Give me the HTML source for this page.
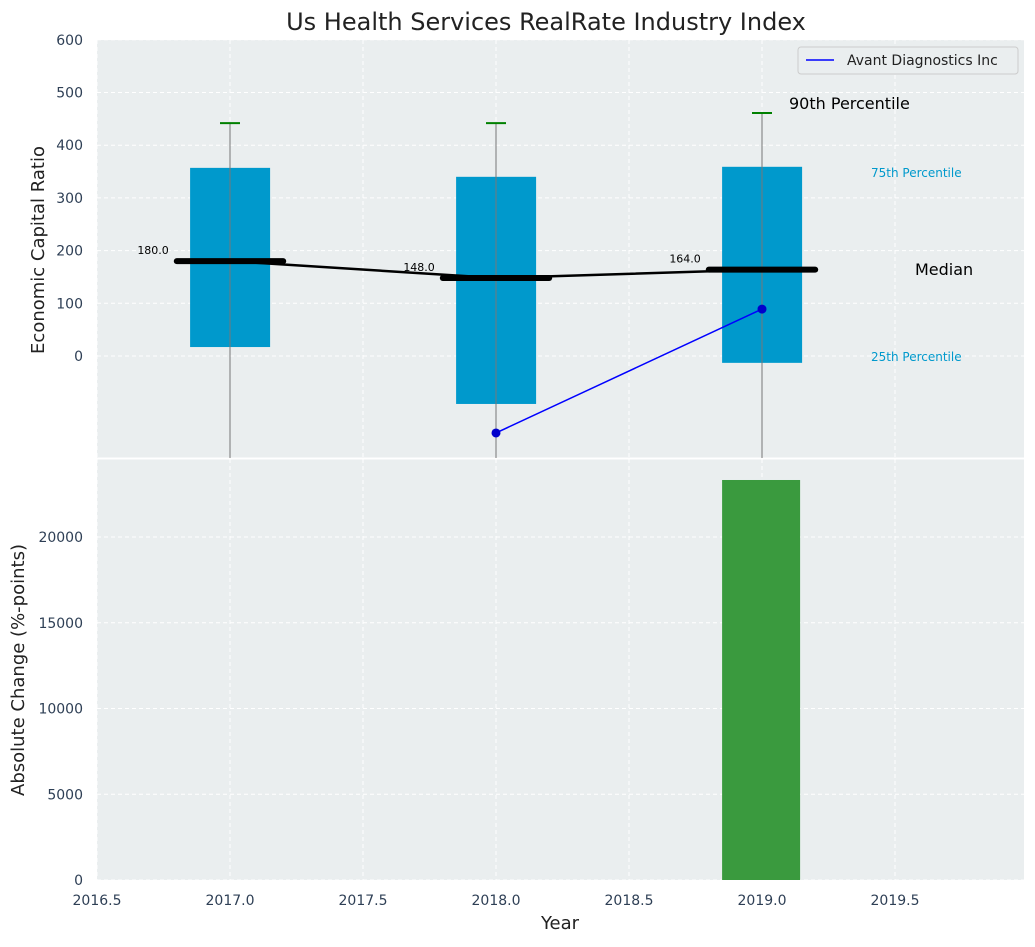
<!DOCTYPE html>
<html><head><meta charset="utf-8"><style>
body{margin:0;background:#fff;font-family:"Liberation Sans","DejaVu Sans",sans-serif}
svg text{font-family:"DejaVu Sans","Liberation Sans",sans-serif}
</style></head><body>
<svg id="c" width="1035" height="942" xmlns="http://www.w3.org/2000/svg"></svg>
<script>
const years=[2017,2018,2019];
const q25=[17,-91,-13];
const q75=[357,340,359];
const p90=[442,442,461];
const medians=[180,148,164];
const avantYears=[2018,2019];
const avantVals=[-146,89];
const changeYears=[2019];
const changeVals=[23324];
const xTicks=[2016.5,2017.0,2017.5,2018.0,2018.5,2019.0,2019.5];
const yTopTicks=[0,100,200,300,400,500,600];
const yBotTicks=[0,5000,10000,15000,20000];

const NS="http://www.w3.org/2000/svg";
const svg=document.getElementById('c');
function el(t,a,txt){const e=document.createElementNS(NS,t);for(const k in a)e.setAttribute(k,a[k]);if(txt!==undefined)e.textContent=txt;svg.appendChild(e);return e;}
const L=97,R=1024,T1=40,B1=458,T2=459,B2=880;
const x=v=>L+(v-2016.5)*266;
const yT=v=>356-v*0.527;
const yB=v=>B2-v*343/20000;

let e;
e=el('rect',{x:L,y:T1,width:R-L,height:B1-T1,fill:'#eaeeef'});

e=el('rect',{x:L,y:T2,width:R-L,height:B2-T2,fill:'#eaeeef'});

// grids
xTicks.forEach(t=>{
 e=el('line',{x1:x(t),x2:x(t),y1:T1,y2:B1,stroke:'#fff','stroke-dasharray':'4,3','stroke-width':1});
 
 e=el('line',{x1:x(t),x2:x(t),y1:T2,y2:B2,stroke:'#fff','stroke-dasharray':'4,3','stroke-width':1});
 
 e=el('text',{x:x(t),y:905,'text-anchor':'middle','font-size':14,fill:'#2e3f55'},t.toFixed(1));
 
});
yTopTicks.forEach(t=>{
 e=el('line',{x1:L,x2:R,y1:yT(t),y2:yT(t),stroke:'#fff','stroke-dasharray':'4,3'});
 
 e=el('text',{x:83,y:yT(t)+5,'text-anchor':'end','font-size':14,fill:'#2e3f55'},t);
 
});
yBotTicks.forEach(t=>{
 e=el('line',{x1:L,x2:R,y1:yB(t),y2:yB(t),stroke:'#fff','stroke-dasharray':'4,3'});
 
 e=el('text',{x:83,y:yB(t)+5,'text-anchor':'end','font-size':14,fill:'#2e3f55'},t);
 
});
el('line',{x1:L,x2:R,y1:458.5,y2:458.5,stroke:'#fff','stroke-width':2});
// boxes
years.forEach((yr,i)=>{
 e=el('rect',{x:x(yr-0.15),y:yT(q75[i]),width:80,height:yT(q25[i])-yT(q75[i]),fill:'#0099cc'});
 
 e=el('line',{x1:x(yr),x2:x(yr),y1:yT(p90[i]),y2:B1,stroke:'#777','stroke-width':1});
 
 e=el('line',{x1:x(yr)-10,x2:x(yr)+10,y1:yT(p90[i]),y2:yT(p90[i]),stroke:'green','stroke-width':2});
 
 e=el('line',{x1:x(yr-0.2),x2:x(yr+0.2),y1:yT(medians[i]),y2:yT(medians[i]),stroke:'#000','stroke-width':6,'stroke-linecap':'round'});
 
 e=el('text',{x:x(yr-0.23),y:yT(medians[i])-7,'text-anchor':'end','font-size':11,fill:'#000'},medians[i].toFixed(1));
 
});
e=el('polyline',{points:years.map((yr,i)=>x(yr)+','+yT(medians[i])).join(' '),fill:'none',stroke:'#000','stroke-width':2.5});

e=el('polyline',{points:avantYears.map((yr,i)=>x(yr)+','+yT(avantVals[i])).join(' '),fill:'none',stroke:'blue','stroke-width':1.5});

avantYears.forEach((yr,i)=>{
 e=el('circle',{cx:x(yr),cy:yT(avantVals[i]),r:4.5,fill:'#0000cc'});
 
});
// annotations
[['90th Percentile',789,109,16,'#000'],['75th Percentile',871,177,12,'#0099cc'],['Median',915,275,16,'#000'],['25th Percentile',871,361,12,'#0099cc']].forEach(a=>{
 e=el('text',{x:a[1],y:a[2],'font-size':a[3],fill:a[4]},a[0]);
 
});
// bottom bars
changeYears.forEach((yr,i)=>{
 e=el('rect',{x:x(yr-0.15),y:yB(changeVals[i]),width:78,height:B2-yB(changeVals[i]),fill:'#3a9a3e'});
 
});
// legend
e=el('rect',{x:798,y:47,width:220,height:27,fill:'#eaeeef',stroke:'#ccc',rx:3});

el('line',{x1:806,x2:834,y1:60,y2:60,stroke:'blue','stroke-width':1.5});
e=el('text',{x:847,y:65,'font-size':14,fill:'#222'},'Avant Diagnostics Inc');

// titles
e=el('text',{x:546,y:30,'text-anchor':'middle','font-size':24,fill:'#222'},'Us Health Services RealRate Industry Index');

e=el('text',{x:44,y:250,'text-anchor':'middle','font-size':18,fill:'#222',transform:'rotate(-90 44 250)'},'Economic Capital Ratio');

e=el('text',{x:24,y:670,'text-anchor':'middle','font-size':18,fill:'#222',transform:'rotate(-90 24 670)'},'Absolute Change (%-points)');

e=el('text',{x:560,y:929,'text-anchor':'middle','font-size':18,fill:'#222'},'Year');

</script>
</body></html>
